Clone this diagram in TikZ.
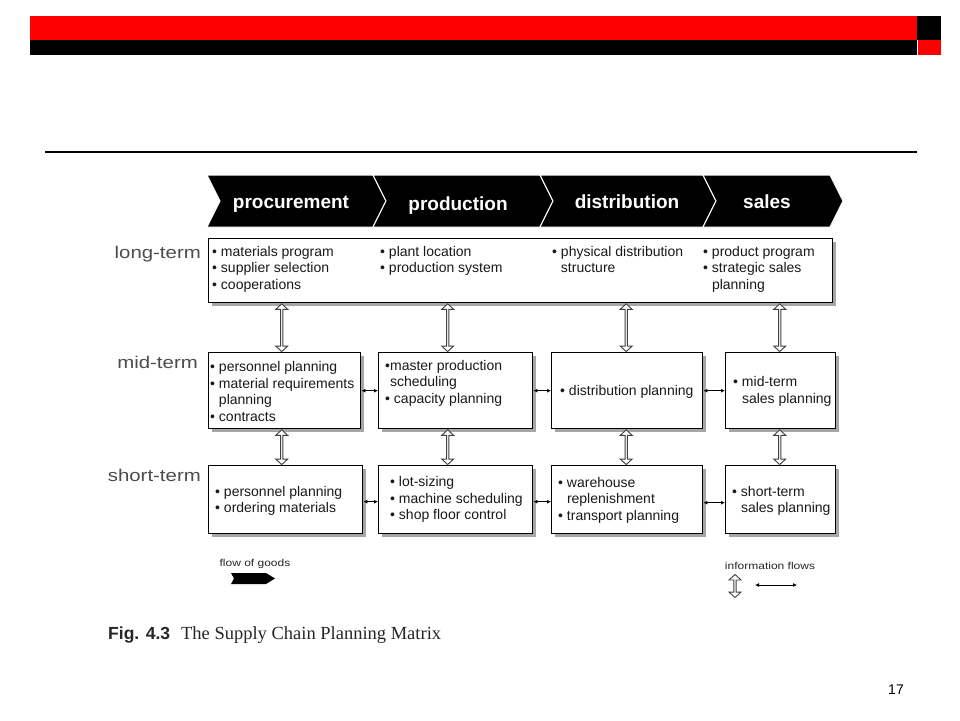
\documentclass[tikz,border=0pt]{standalone}
\usepackage{fontspec}
\setmainfont{Liberation Sans}
\newfontfamily\stretchfont[FakeStretch=1.2]{Liberation Sans}
\newfontfamily\serifcap{Liberation Serif}
\usetikzlibrary{arrows.meta,shadows,calc,shapes.arrows}
\definecolor{slidered}{RGB}{255,0,0}

\newcommand{\itm}{\textbullet\ }
\newcommand{\ind}{\hphantom{\textbullet\ }}

\tikzset{
	phase/.style={anchor=base, text=white, inner sep=0pt, font=\fontsize{19pt}{24pt}\selectfont\bfseries},
	rowlabel/.style={anchor=base east, text=black!70, inner sep=0pt, font=\stretchfont\fontsize{17pt}{20pt}\selectfont},
	planbox/.style={draw=black, line width=1.4pt, fill=white, anchor=north west, inner sep=0pt,
		drop shadow={shadow xshift=3pt, shadow yshift=-3pt, fill=black!35, opacity=1}},
	items/.style={align=left, inner sep=0pt, text=black!90, font=\fontsize{14pt}{16.5pt}\selectfont},
	infoarrow/.style={double arrow, draw=black!75, fill=white, line width=0.9pt, inner sep=0pt, outer sep=0pt,
		shape border rotate=90, minimum width=12pt, double arrow head extend=2pt, double arrow tip angle=95},
	smallflow/.style={line width=0.9pt, {Latex[length=4pt,width=4pt]}-{Latex[length=4pt,width=4pt]}},
	legend/.style={inner sep=0pt, text=black!85, font=\stretchfont\fontsize{10pt}{12pt}\selectfont}
}
% hollow two-way arrow between two points
\newcommand{\infoflow}[2]{\path let \p1=(#1), \p2=(#2), \n1={veclen(\x2-\x1,\y2-\y1)} in
	node[infoarrow, minimum height=\n1-0.9pt] at ($(#1)!0.5!(#2)$) {};}

\begin{document}
\begin{tikzpicture}[x=1pt,y=-1pt]
	\path[use as bounding box, fill=white] (0,0) rectangle (960,720);

	% slide header
	\fill[slidered] (30,16) rectangle (917,40);
	\fill[black] (30,40) rectangle (917,55);
	\fill[black] (917,16) rectangle (941,40);
	\fill[slidered] (918,40) rectangle (941,55);
	\draw[line width=1.2pt] (45,152) -- (917,152);

	% flow of goods
	\foreach \xa/\xb/\name/\txt/\lx/\ly in {207/373/proc/procurement/291/208, 373/540/prod/production/458/210, 540/703/dist/distribution/627/208, 703/830/sale/sales/767/208} {
		\filldraw[draw=white, line width=1pt, fill=black] (\xa,175) -- (\xb,175) -- (\xb+13,201) -- (\xb,227) -- (\xa,227) -- (\xa+13,201) -- cycle;
		\node[phase] (\name) at (\lx,\ly) {\txt};
	}

	% planning levels
	\node[rowlabel] (ltlab) at (201,258) {long-term};
	\node[rowlabel] (mtlab) at (198,368) {mid-term};
	\node[rowlabel] (stlab) at (201,481) {short-term};

	% long-term
	\node[planbox, minimum width=624pt, minimum height=64pt] (lt) at (208,238) {};
	\node[items, anchor=north west] (lt1) at (212,246) {\itm materials program\\ \itm supplier selection\\ \itm cooperations};
	\node[items, anchor=north west] (lt2) at (380,246) {\itm plant location\\ \itm production system};
	\node[items, anchor=north west] (lt3) at (552,246) {\itm physical distribution\\ \ind structure};
	\node[items, anchor=north west] (lt4) at (703,246) {\itm product program\\ \itm strategic sales\\ \ind planning};

	% mid-term
	\node[planbox, minimum width=152pt, minimum height=76pt] (mp) at (208,352) {};
	\node[planbox, minimum width=154pt, minimum height=76pt] (mr) at (378,352) {};
	\node[planbox, minimum width=151pt, minimum height=76pt] (md) at (551,352) {};
	\node[planbox, minimum width=110pt, minimum height=76pt] (ms) at (725,352) {};
	\node[items, anchor=west] (mptxt) at ($(mp.west)+(2,1)$) {\itm personnel planning\\ \itm material requirements\\ \ind planning\\ \itm contracts};
	\node[items, anchor=north west] (mrtxt) at ($(mr.north west)+(7,8)$) {\textbullet master production\\ \hphantom{\textbullet}scheduling\\ \itm capacity planning};
	\node[items, anchor=west] (mdtxt) at ($(md.west)+(9,1.5)$) {\itm distribution planning};
	\node[items, anchor=west] (mstxt) at ($(ms.west)+(8,0.5)$) {\itm mid-term\\ \ind sales planning};

	% short-term
	\node[planbox, minimum width=154pt, minimum height=68pt] (sp) at (208,465) {};
	\node[planbox, minimum width=154pt, minimum height=68pt] (sr) at (378,465) {};
	\node[planbox, minimum width=151pt, minimum height=68pt] (sd) at (551,465) {};
	\node[planbox, minimum width=110pt, minimum height=68pt] (ss) at (725,465) {};
	\node[items, anchor=west] (sptxt) at ($(sp.west)+(7,1)$) {\itm personnel planning\\ \itm ordering materials};
	\node[items, anchor=west] (srtxt) at ($(sr.west)+(12,0)$) {\itm lot-sizing\\ \itm machine scheduling\\ \itm shop floor control};
	\node[items, anchor=west] (sdtxt) at ($(sd.west)+(7,0.5)$) {\itm warehouse\\ \ind replenishment\\ \itm transport planning};
	\node[items, anchor=west] (sstxt) at ($(ss.west)+(7,1)$) {\itm short-term\\ \ind sales planning};

	% information flows
	\foreach \m/\s/\d in {mp/sp/-3, mr/sr/-8, md/sd/-1, ms/ss/-1} {
		\coordinate (\m top) at ($(\m.north)+(\d,0)$);
		\coordinate (\m up) at ($(\m.north |- lt.south)+(\d,0)$);
		\coordinate (\m bot) at ($(\m.south)+(\d,0)$);
		\coordinate (\m down) at ($(\m.south |- \s.north)+(\d,0)$);
		\infoflow{\m up}{\m top}
		\infoflow{\m bot}{\m down}
	}
	\draw[smallflow] (mp.east) -- (mr.west);
	\draw[smallflow] (mr.east) -- (md.west);
	\draw[smallflow] (md.east) -- (ms.west);
	\draw[smallflow] ($(sp.east)+(0,2)$) -- ($(sr.west)+(0,2)$);
	\draw[smallflow] ($(sr.east)+(0,2)$) -- ($(sd.west)+(0,2)$);
	\draw[smallflow] ($(sd.east)+(0,3)$) -- ($(ss.west)+(0,3)$);

	% legend
	\node[legend] (goodslab) at (255,564) {flow of goods};
	\fill[black] (231,573) -- (266,573) -- (275,578.5) -- (266,584) -- (231,584) -- (234,578.5) -- cycle;
	\node[legend] (infolab) at (770,566) {information flows};
	\coordinate (iva) at (735,574);
	\coordinate (ivb) at (735,598);
	\infoflow{iva}{ivb}
	\coordinate (iha) at (755,585);
	\coordinate (ihb) at (797,585);
	\draw[smallflow] (iha) -- (ihb);

	% caption and page number
	\node[anchor=base west, inner sep=0pt, text=black!85] (caption) at (108,639) {{\fontsize{17.5pt}{20pt}\selectfont\bfseries Fig. 4.3}\hspace{11pt}{\serifcap\fontsize{18.5pt}{22pt}\selectfont The Supply Chain Planning Matrix}};
	\node[inner sep=0pt, font=\fontsize{14pt}{16pt}\selectfont] (pagenum) at (896,690) {17};
\end{tikzpicture}
\end{document}
